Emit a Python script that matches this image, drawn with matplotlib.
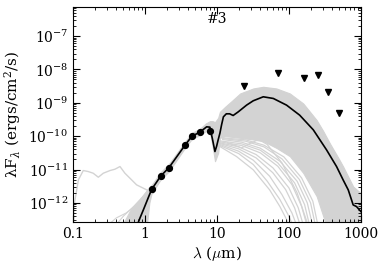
import numpy as np
import matplotlib
matplotlib.use("Agg")
import matplotlib.pyplot as plt

plt.rcParams['font.family'] = ['DejaVu Serif']
plt.rcParams['mathtext.fontset'] = 'dejavuserif'

# ---- data (log10 of lambda*F_lambda, wavelengths in micron) ----
phot_wave = [1.235, 1.65, 2.16, 3.6, 4.5, 5.8, 8.0]
phot_logf = [-11.59, -11.20, -10.94, -10.26, -9.985, -9.874, -9.853]

lim_wave = [24, 70, 160, 250, 350, 500]
lim_logf = [-8.49, -8.12, -8.27, -8.17, -8.69, -9.31]

best_wave = [0.74, 0.85, 0.95, 1.235, 1.65, 2.16, 2.8, 3.6, 4.5, 5.8, 7.19, 7.98,
             8.71, 9.38, 9.9, 10.4, 11.0, 11.6, 12.3, 13.5, 15.0, 16.8, 19.8,
             25.8, 31.9, 44, 60.7, 92.7, 141, 218, 333, 459, 566, 667, 781, 870, 1000]
best_logf = [-12.8, -12.46, -12.21, -11.6, -11.2, -10.94, -10.6, -10.27, -10.0,
             -9.88, -9.72, -9.73, -10.11, -10.46, -10.3, -10.11, -9.91, -9.66,
             -9.42, -9.33, -9.33, -9.38, -9.27, -9.07, -8.94, -8.82, -8.87,
             -9.07, -9.37, -9.81, -10.41, -10.91, -11.31, -11.61, -12.06, -12.11, -12.26]

band_wave = [0.45, 0.62, 0.85, 1.06, 1.15, 1.235, 1.65, 2.16, 3.6, 4.5, 5.8, 7.0,
             8.0, 8.7, 9.4, 10.4, 11, 13, 16, 21, 32, 44, 67, 103, 158, 243, 300,
             369, 500, 566, 781, 1000]
band_upper = [-12.8, -12.23, -11.89, -11.62, -11.52, -11.47, -11.08, -10.83, -10.17,
              -9.9, -9.78, -9.62, -9.55, -9.55, -9.58, -9.45, -9.27, -9.12, -8.95,
              -8.72, -8.57, -8.52, -8.57, -8.72, -9.02, -9.52, -9.85, -10.21, -10.7,
              -10.91, -11.51, -11.71]
band_lower = [-13, -13, -13, -12.7, -12.0, -11.72, -11.3, -11.05, -10.35, -10.08,
              -9.97, -9.85, -9.9, -10.3, -10.75, -10.5, -10.05, -10.0, -10.02,
              -10.05, -10.1, -10.15, -10.35, -10.6, -11.1, -11.8, -12.4, -13,
              -13, -13, -13, -13]

# individual sparse model curves
uv_wave = [0.1, 0.105, 0.119, 0.139, 0.163, 0.191, 0.225, 0.264, 0.327, 0.383,
           0.45, 0.527, 0.619, 0.767, 1.06, 1.30, 1.6]
uv_logf = [-12.9, -12.0, -11.31, -11.03, -11.06, -11.11, -11.23, -11.11, -11.03,
           -10.99, -10.91, -11.11, -11.26, -11.46, -11.61, -11.71, -11.3]

opt1_wave = [0.26, 0.4, 0.55, 0.77, 1.0, 1.2]
opt1_logf = [-12.8, -12.45, -12.3, -12.06, -11.8, -11.6]
opt2_wave = [0.35, 0.5, 0.7, 0.9, 1.2]
opt2_logf = [-12.8, -12.4, -12.1, -11.85, -11.55]

fir_curves = [
    ([11, 18.7, 32, 54, 75, 93, 105], [-10.31, -10.61, -11.01, -11.61, -12.11, -12.5, -12.8]),
    ([11, 20, 32, 50, 75, 100, 120], [-10.28, -10.52, -10.85, -11.35, -11.9, -12.4, -12.8]),
    ([11, 20, 32, 54, 80, 110, 135], [-10.25, -10.45, -10.72, -11.2, -11.75, -12.3, -12.8]),
    ([11, 20, 35, 60, 90, 120, 150], [-10.22, -10.38, -10.65, -11.1, -11.6, -12.15, -12.8]),
    ([11, 20, 35, 60, 100, 135, 165], [-10.2, -10.32, -10.55, -10.95, -11.55, -12.15, -12.8]),
    ([11, 22, 40, 70, 110, 150, 185], [-10.17, -10.28, -10.5, -10.9, -11.45, -12.1, -12.8]),
    ([11, 22, 40, 70, 120, 165, 200], [-10.14, -10.23, -10.42, -10.8, -11.4, -12.05, -12.8]),
    ([12, 22, 40, 75, 130, 180, 220], [-10.1, -10.18, -10.36, -10.75, -11.35, -12.0, -12.8]),
    ([12, 25, 45, 80, 140, 200, 240], [-10.07, -10.15, -10.32, -10.68, -11.3, -12.0, -12.8]),
    ([12, 25, 45, 85, 150, 215, 260], [-10.05, -10.11, -10.27, -10.62, -11.25, -11.95, -12.8]),
    ([14, 22, 30, 38, 50, 80, 130, 180], [-10.2, -10.35, -10.2, -10.1, -10.25, -10.8, -11.7, -12.6]),
]

grey = '#d3d3d3'
ylog_min, ylog_max = -12.57, -6.13

fig = plt.figure(figsize=(3.86, 2.70), dpi=100)
ax = fig.add_axes([0.189, 0.178, 0.746, 0.796])

def p(a):
    return 10.0 ** np.asarray(a)

ax.fill_between(band_wave, p(band_lower), p(band_upper), color=grey, lw=0.8, zorder=1)
ax.plot(uv_wave, p(uv_logf), color=grey, lw=1.0, zorder=1)
ax.plot(opt1_wave, p(opt1_logf), color=grey, lw=0.8, zorder=1)
ax.plot(opt2_wave, p(opt2_logf), color=grey, lw=0.8, zorder=1)
for w, f in fir_curves:
    ax.plot(w, p(f), color=grey, lw=0.9, zorder=1)

ax.plot(best_wave, p(best_logf), color='black', lw=1.2, zorder=3)
ax.plot(phot_wave, p(phot_logf), 'o', color='black', ms=4.2, zorder=4)
ax.plot(lim_wave, p(lim_logf), 'v', color='black', ms=4.5, zorder=4)

ax.set_xscale('log')
ax.set_yscale('log')
ax.set_xlim(0.1, 1000)
ax.set_ylim(10 ** ylog_min, 10 ** ylog_max)

# ticks restricted to the visible range
ymaj = 10.0 ** np.arange(np.ceil(ylog_min), np.floor(ylog_max) + 1)
ymin_all = np.array([s * 10.0 ** e for e in range(int(np.floor(ylog_min)), int(np.ceil(ylog_max)))
                     for s in range(2, 10)])
ymin_t = ymin_all[(ymin_all > 10 ** ylog_min) & (ymin_all < 10 ** ylog_max)]
xmaj = 10.0 ** np.arange(-1, 4)
xmin_all = np.array([s * 10.0 ** e for e in range(-1, 3) for s in range(2, 10)])

ax.yaxis.set_major_locator(matplotlib.ticker.FixedLocator(ymaj))
ax.yaxis.set_minor_locator(matplotlib.ticker.FixedLocator(ymin_t))
ax.xaxis.set_major_locator(matplotlib.ticker.FixedLocator(xmaj))
ax.xaxis.set_minor_locator(matplotlib.ticker.FixedLocator(xmin_all))
ax.xaxis.set_major_formatter(matplotlib.ticker.FuncFormatter(lambda v, pos: '%g' % v))
ax.yaxis.set_major_formatter(matplotlib.ticker.LogFormatterSciNotation())
ax.xaxis.set_minor_formatter(matplotlib.ticker.NullFormatter())
ax.yaxis.set_minor_formatter(matplotlib.ticker.NullFormatter())

ax.tick_params(which='both', direction='in', top=True, right=True, labelsize=10)
ax.tick_params(which='major', length=5)
ax.tick_params(which='minor', length=2.5)

ax.set_xlabel(r'$\lambda$ ($\mu$m)', fontsize=11, math_fontfamily='cm', labelpad=2)
ax.set_ylabel(r'λF$_\lambda$ (ergs/cm$^2$/s)', fontsize=11)
ax.text(0.5, 0.945, '#3', transform=ax.transAxes, ha='center', va='center', fontsize=10)

fig.savefig('out.png', dpi=100)
